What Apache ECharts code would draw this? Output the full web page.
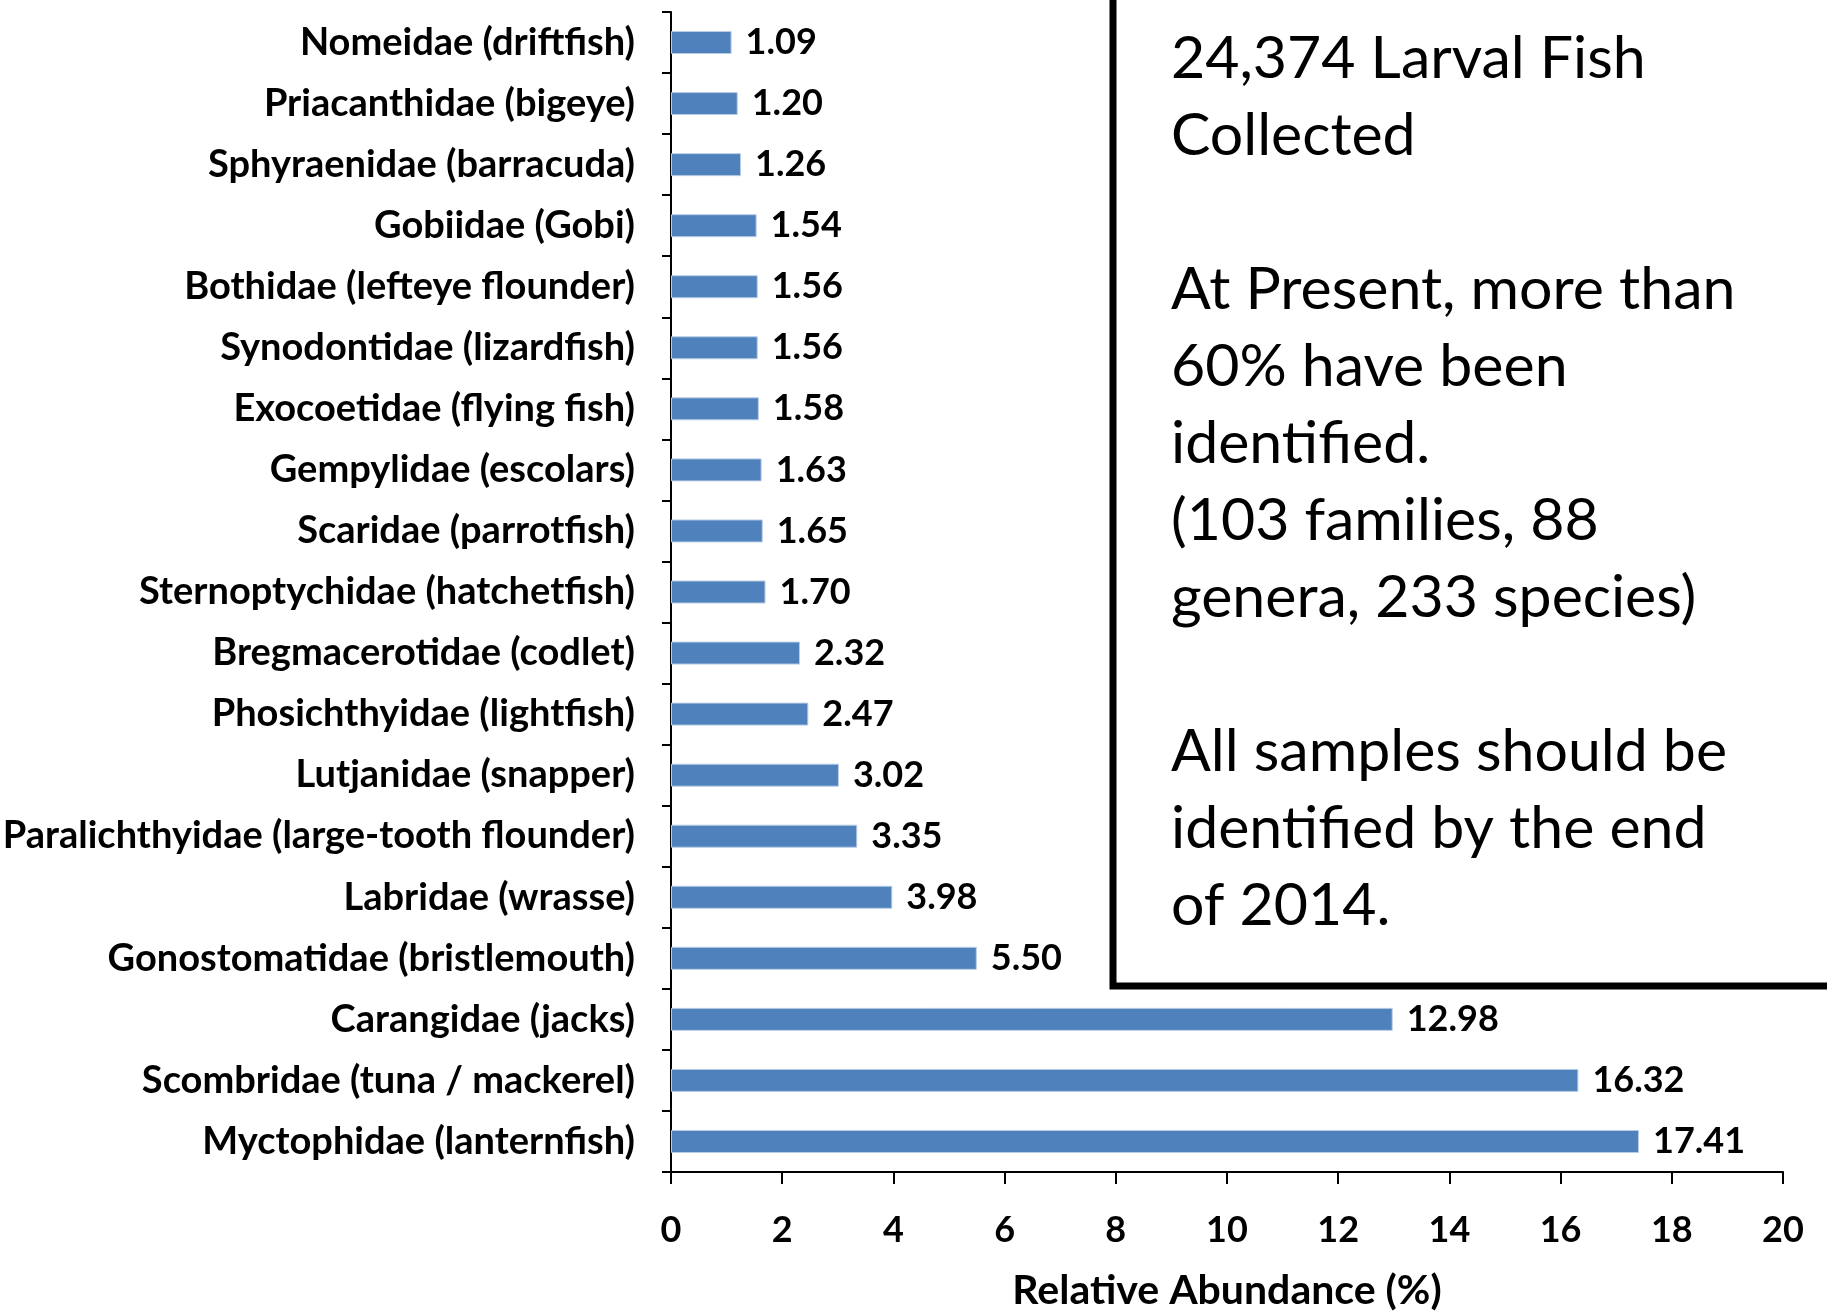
<!DOCTYPE html>
<html>
<head>
<meta charset="utf-8">
<script src="https://cdn.jsdelivr.net/npm/echarts@6/dist/echarts.min.js"></script>
<style>
  html, body { margin: 0; padding: 0; background: #fff; }
  #fishChart { width: 1827px; height: 1312px; }
</style>
</head>
<body>
<div id="fishChart"></div>
<script>
// families, top to bottom as in the figure
const families = [
  "Nomeidae (driftfish)",
  "Priacanthidae (bigeye)",
  "Sphyraenidae (barracuda)",
  "Gobiidae (Gobi)",
  "Bothidae (lefteye flounder)",
  "Synodontidae (lizardfish)",
  "Exocoetidae (flying fish)",
  "Gempylidae (escolars)",
  "Scaridae (parrotfish)",
  "Sternoptychidae (hatchetfish)",
  "Bregmacerotidae (codlet)",
  "Phosichthyidae (lightfish)",
  "Lutjanidae (snapper)",
  "Paralichthyidae (large-tooth flounder)",
  "Labridae (wrasse)",
  "Gonostomatidae (bristlemouth)",
  "Carangidae (jacks)",
  "Scombridae (tuna / mackerel)",
  "Myctophidae (lanternfish)"
];
const abundance = [1.09, 1.20, 1.26, 1.54, 1.56, 1.56, 1.58, 1.63, 1.65, 1.70,
  2.32, 2.47, 3.02, 3.35, 3.98, 5.50, 12.98, 16.32, 17.41];
const xTicks = [0, 20, 2]; // min, max, step
const noteText = "24,374 Larval Fish\nCollected\n\nAt Present, more than\n60% have been\nidentified.\n(103 families, 88\ngenera, 233 species)\n\nAll samples should be\nidentified by the end\nof 2014.";

const fontFam = "Lato, 'Open Sans', sans-serif";
const myChart = echarts.init(document.getElementById("fishChart"));

const option = {
  animation: false,
  grid: { left: 671, right: 44, top: 12, bottom: 140, containLabel: false, outerBoundsMode: "none" },
  xAxis: {
    type: "value",
    min: xTicks[0],
    max: xTicks[1],
    interval: xTicks[2],
    name: "Relative Abundance (%)",
    nameLocation: "middle",
    nameGap: 98,
    nameTextStyle: { color: "#000", fontSize: 41, fontWeight: "bold", fontFamily: fontFam },
    axisLine: { show: true, lineStyle: { color: "#000", width: 2 } },
    axisTick: { show: true, length: 12, inside: false, lineStyle: { color: "#000", width: 2 } },
    axisLabel: { color: "#000", fontSize: 36, fontWeight: "bold", fontFamily: fontFam, margin: 40 },
    splitLine: { show: false }
  },
  yAxis: {
    type: "category",
    data: families,
    inverse: true,
    axisLine: { show: true, lineStyle: { color: "#000", width: 2 } },
    axisTick: { show: true, length: 9, lineStyle: { color: "#000", width: 2 } },
    axisLabel: { color: "#000", fontSize: 38, fontWeight: "bold", fontFamily: fontFam, margin: 36 }
  },
  series: [{
    type: "bar",
    data: abundance,
    barWidth: 23,
    itemStyle: { color: "#4F81BD", borderColor: "#B9CDE5", borderWidth: 1 },
    label: {
      show: true,
      position: "right",
      distance: 14,
      color: "#000",
      fontSize: 36,
      fontWeight: "bold",
      fontFamily: fontFam,
      formatter: function (p) { return p.value.toFixed(2); }
    }
  }],
  graphic: [
    {
      type: "rect",
      z: 100,
      shape: { x: 1113, y: -20, width: 760, height: 1006 },
      style: { fill: "#fff", stroke: "#000", lineWidth: 7 }
    },
    {
      type: "text",
      z: 101,
      left: 1171,
      top: 20,
      style: {
        text: noteText,
        fill: "#000",
        font: "59px " + fontFam,
        lineHeight: 77
      }
    }
  ]
};
myChart.setOption(option);
</script>
</body>
</html>
